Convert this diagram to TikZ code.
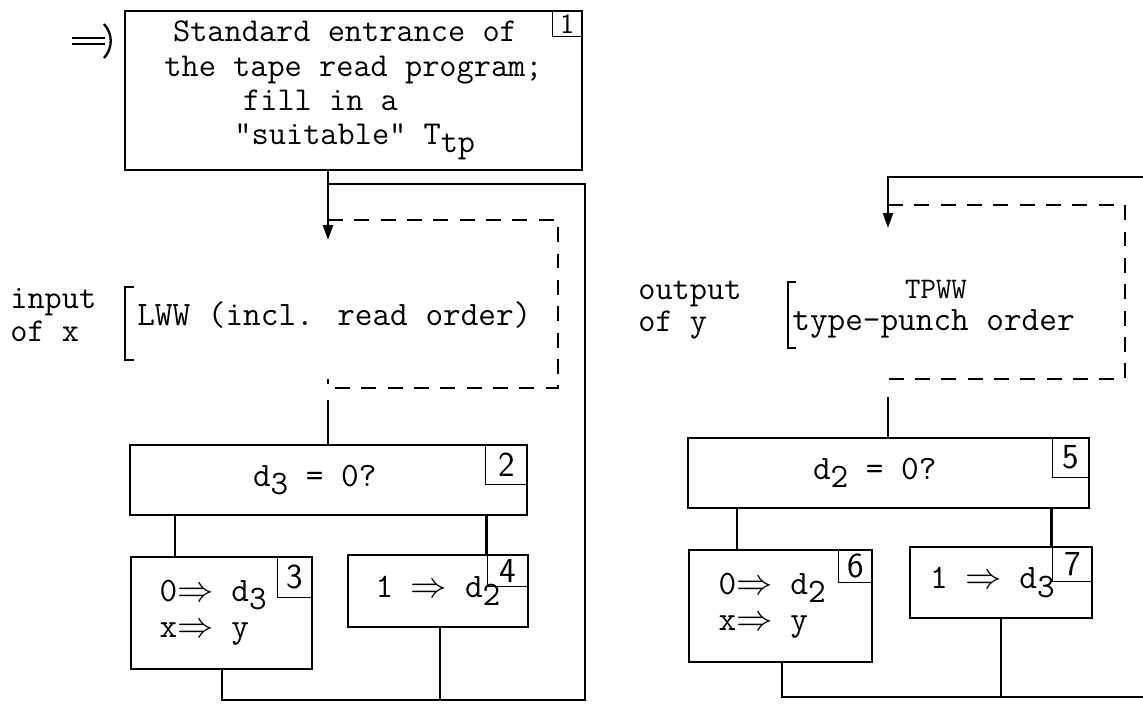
\documentclass[tikz,border=0pt]{standalone}
\usetikzlibrary{arrows.meta}
\newcommand\tw{\ttfamily\fontsize{19.5}{17.2}\selectfont}
\newcommand\twb{\ttfamily\fontsize{19}{19.5}\selectfont}
\newcommand\twl{\ttfamily\fontsize{19}{18.5}\selectfont}
\newcommand\twp{\ttfamily\fontsize{19.5}{20.5}\selectfont}
\newcommand\lo[1]{\raisebox{-0.55ex}{#1}}

\begin{document}
\begin{tikzpicture}[x=0.02cm, y=-0.02cm,
    line/.style={line width=1.3pt},
    box/.style={draw, line width=1.3pt, inner sep=0pt, font=\tw},
    numbox/.style={draw, line width=0.9pt, inner sep=0pt, anchor=north east,
                   font=\sffamily\fontsize{20}{20}\selectfont},
    dashline/.style={line width=1.2pt, dash pattern=on 8.5pt off 6.5pt},
    arr/.style={line, -{Triangle[length=0.3cm, width=0.2cm]}},
    lbl/.style={font=\twl, inner sep=0pt, anchor=west, align=left}]

    \useasboundingbox (0,0) rectangle (1143,707);

    % ---------- left: input of x ----------
    \node[box, font=\twb, minimum width=9.14cm, minimum height=3.18cm, align=left] (b1) at (353.5,90.5)
        {\hspace*{0.26em}Standard entrance of\\the tape read program;\\\hspace*{2.36em}fill in a\\\hspace*{2.1em}"suitable" T\lo{tp}};
    \node[numbox, font=\sffamily\fontsize{16}{16}\selectfont, minimum width=0.6cm, minimum height=0.52cm] (n1) at (b1.north east) {1};

    % entrance mark
    \coordinate (ent) at (72,41);
    \draw[line] (ent) ++(0,-3) -- ++(33,0);
    \draw[line] (ent) ++(0,3) -- ++(33,0);
    \draw[line] (ent) ++(32,-17) .. controls ++(9,10) and ++(9,-10) .. ++(0,34);

    \coordinate (in1) at (328,240);
    \coordinate (top1) at (328,184);
    \coordinate (out1) at (328,400);
    \coordinate (dl1) at (328,220);
    \coordinate (dl2) at (558,388);
    \coordinate (rb1) at (585,700);
    \coordinate (x23) at (175,0);
    \coordinate (x3) at (222,700);
    \coordinate (x4) at (440,700);

    \node[lbl] (inx) at (10,315) {input\\of x};
    \coordinate (br1) at (125,287);
    \draw[line] (br1) ++(9,0) -- (br1) -- ++(0,73) -- ++(9,0);
    \node[lbl, font=\tw] (lww) at (137,315) {LWW (incl. read order)};

    \node[box, minimum width=7.94cm, minimum height=1.4cm] (b2) at (328.5,480) {d\lo{3} = 0?\hspace*{0.8em}};
    \node[numbox, minimum width=0.84cm, minimum height=0.8cm] (n2) at (b2.north east) {2};

    \node[box, font=\twp, minimum width=3.62cm, minimum height=2.24cm, align=left] (b3) at (221.5,613)
        {0$\Rightarrow$ d\lo{3}\\x$\Rightarrow$ y\hspace*{1em}};
    \node[numbox, minimum width=0.7cm, minimum height=0.82cm] (n3) at (b3.north east) {3};

    \node[box, minimum width=3.6cm, minimum height=1.44cm] (b4) at (438,591) {1 $\Rightarrow$ d\lo{2}};
    \node[numbox, minimum width=0.82cm, minimum height=0.64cm] (n4) at (b4.north east) {4};

    \draw[arr] (b1.south -| in1) -- (in1);
    \draw[dashline] (dl1) -- (dl1 -| dl2) -- (dl2) -- (dl2 -| dl1) -- ++(0,-9);
    \draw[line] (out1) -- (b2.north -| out1);
    \draw[line] (b2.south -| x23) -- (b3.north -| x23);
    \draw[line] (b2.south -| n4.north west) -- (n4.north west);
    \draw[line] (b4.south -| x4) -- (x4);
    \draw[line] (b3.south -| x3) |- (rb1) |- (top1);

    % ---------- right: output of y ----------
    \coordinate (rtop) at (1143,177);
    \coordinate (in2) at (888,228);
    \coordinate (out2) at (888,397);
    \coordinate (dr1) at (888,205);
    \coordinate (dr2) at (1125,379);
    \coordinate (x56) at (737,0);
    \coordinate (x6) at (782,697);
    \coordinate (rbot) at (1143,697);

    \node[lbl] (outy) at (638,310) {output\\of y};
    \coordinate (br2) at (788,282);
    \draw[line] (br2) ++(8,0) -- (br2) -- ++(0,66) -- ++(8,0);
    \node[font=\ttfamily\fontsize{17}{17}\selectfont, inner sep=0pt] (tpww) at (936,290) {TPWW};
    \node[lbl, font=\tw] (tpo) at (792,324) {type-punch order};

    \node[box, minimum width=8.02cm, minimum height=1.4cm] (b5) at (888.5,473) {d\lo{2} = 0?\hspace*{0.8em}};
    \node[numbox, minimum width=0.74cm, minimum height=0.8cm] (n5) at (b5.north east) {5};

    \node[box, font=\twp, minimum width=3.66cm, minimum height=2.24cm, align=left] (b6) at (780.5,606)
        {0$\Rightarrow$ d\lo{2}\\x$\Rightarrow$ y\hspace*{1em}};
    \node[numbox, minimum width=0.68cm, minimum height=0.66cm] (n6) at (b6.north east) {6};

    \node[box, minimum width=3.64cm, minimum height=1.42cm] (b7) at (1001,582.5) {1 $\Rightarrow$ d\lo{3}\hspace*{0.5em}};
    \node[numbox, minimum width=0.8cm, minimum height=0.7cm] (n7) at (b7.north east) {7};

    \draw[arr] (rtop) -| (in2);
    \draw[dashline] (dr1) -- (dr1 -| dr2) -- (dr2) -- (dr2 -| dr1) -- ++(0,-9);
    \draw[line] (out2) -- (b5.north -| out2);
    \draw[line] (b5.south -| x56) -- (b6.north -| x56);
    \draw[line] (b5.south -| n7.north west) -- (n7.north west);
    \draw[line] (b6.south -| x6) |- (rbot);
    \draw[line] (b7.south) -- (b7.south |- rbot);
\end{tikzpicture}
\end{document}
